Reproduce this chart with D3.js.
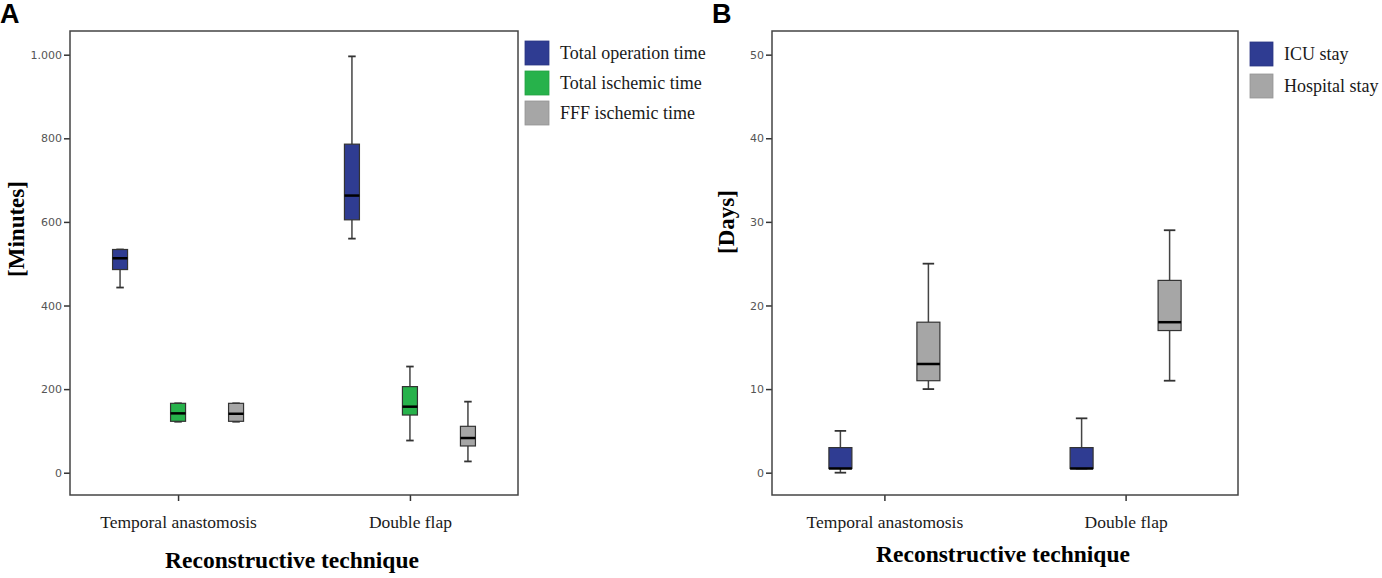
<!DOCTYPE html>
<html>
<head>
<meta charset="utf-8">
<script src="https://cdn.jsdelivr.net/npm/d3@7"></script>
<style>
  body { margin: 0; background: #fff; }
  svg { display: block; }
</style>
</head>
<body>
<div id="chart"></div>
<script>
// categories on the x axis (same for both panels)
const categories = ["Temporal anastomosis", "Double flap"];

// panel A: [min, q1, median, q3, max] in minutes, per category
const minutesSeries = ["Total operation time", "Total ischemic time", "FFF ischemic time"];
const operationTime = [[443, 486, 513, 534, 534], [560, 605, 663, 786, 996]];
const totalIschemicTime = [[122, 123, 142, 166, 166], [77, 138, 158, 206, 254]];
const fffIschemicTime = [[122, 123, 141, 166, 166], [27, 64, 83, 111, 170]];
const minutesTicks = [0, 200, 400, 600, 800, 1000];

// panel B: [min, q1, median, q3, max] in days, per category
const daysSeries = ["ICU stay", "Hospital stay"];
const icuStay = [[0, 0.5, 0.5, 3, 5], [0.5, 0.5, 0.5, 3, 6.5]];
const hospitalStay = [[10, 11, 13, 18, 25], [11, 17, 18, 23, 29]];
const daysTicks = [0, 10, 20, 30, 40, 50];

const width = 1382, height = 578;
const blue = "#2f3c92", green = "#27b24b", grey = "#a6a6a6";

// european style thousands: 1.000
const fmt = d3.formatLocale({decimal: ",", thousands: ".", grouping: [3], currency: ["", ""]}).format(",d");

const svg = d3.select("#chart").append("svg")
  .attr("width", width)
  .attr("height", height);

function drawPanel({
  letter, letterX,
  left, right, top = 31, bottom = 495,
  yDomain, ticks, yTitle, yTitleX, yTitleY,
  series, values, colors,
  spread, boxWidth,
  legendX, legendY, legendStep, swatchW,
  titleY
}) {
  const g = svg.append("g");

  const x = d3.scalePoint(categories, [left, right]).padding(0.466);
  const y = d3.scaleLinear(yDomain, [bottom, top]);
  const offset = d3.scalePoint(series, [-spread, spread]);

  // panel letter
  g.append("text")
    .attr("x", letterX).attr("y", 23)
    .attr("font-family", "Liberation Sans, Arial, sans-serif")
    .attr("font-weight", "bold")
    .attr("font-size", 27)
    .text(letter);

  // y axis
  const ya = g.append("g")
    .attr("transform", `translate(${left},0)`)
    .call(d3.axisLeft(y).tickValues(ticks).tickFormat(fmt).tickSize(6).tickPadding(2));
  ya.select(".domain").remove();
  ya.selectAll(".tick line").attr("stroke", "#333").attr("stroke-width", 1.5);
  ya.selectAll(".tick text")
    .attr("fill", "#555")
    .attr("font-family", "DejaVu Sans, sans-serif")
    .attr("font-size", 11);

  // x axis
  const xa = g.append("g")
    .attr("transform", `translate(0,${bottom})`)
    .call(d3.axisBottom(x).tickSize(6).tickPadding(15));
  xa.select(".domain").remove();
  xa.selectAll(".tick line").attr("stroke", "#333").attr("stroke-width", 1.5);
  xa.selectAll(".tick text")
    .attr("fill", "#1a1a1a")
    .attr("font-family", "Liberation Serif, Times New Roman, serif")
    .attr("font-size", 17.5);

  // frame
  g.append("rect")
    .attr("x", left).attr("y", top)
    .attr("width", right - left).attr("height", bottom - top)
    .attr("fill", "none")
    .attr("stroke", "#444")
    .attr("stroke-width", 1.5);

  // titles
  g.append("text")
    .attr("transform", `translate(${yTitleX},${yTitleY}) rotate(-90)`)
    .attr("text-anchor", "middle")
    .attr("dominant-baseline", "central")
    .attr("font-family", "Liberation Serif, Times New Roman, serif")
    .attr("font-weight", "bold")
    .attr("font-size", 23)
    .text(yTitle);

  g.append("text")
    .attr("x", (left + right) / 2 - 2).attr("y", titleY)
    .attr("text-anchor", "middle")
    .attr("font-family", "Liberation Serif, Times New Roman, serif")
    .attr("font-weight", "bold")
    .attr("font-size", 23.5)
    .text("Reconstructive technique");

  // boxes
  series.forEach((s, si) => {
    categories.forEach((c, ci) => {
      const [lo, q1, med, q3, hi] = values[si][ci];
      const cx = x(c) + offset(s);
      const bg = g.append("g");
      // whiskers
      bg.append("line")
        .attr("x1", cx).attr("x2", cx)
        .attr("y1", y(hi)).attr("y2", y(q3))
        .attr("stroke", "#444").attr("stroke-width", 1.5);
      bg.append("line")
        .attr("x1", cx).attr("x2", cx)
        .attr("y1", y(q1)).attr("y2", y(lo))
        .attr("stroke", "#444").attr("stroke-width", 1.5);
      [lo, hi].forEach(v => {
        bg.append("line")
          .attr("x1", cx - boxWidth / 4).attr("x2", cx + boxWidth / 4)
          .attr("y1", y(v)).attr("y2", y(v))
          .attr("stroke", "#333").attr("stroke-width", 1.8);
      });
      bg.append("rect")
        .attr("x", cx - boxWidth / 2).attr("y", y(q3))
        .attr("width", boxWidth).attr("height", Math.max(1, y(q1) - y(q3)))
        .attr("fill", colors[si])
        .attr("stroke", "#333")
        .attr("stroke-width", 1.2);
      bg.append("line")
        .attr("x1", cx - boxWidth / 2).attr("x2", cx + boxWidth / 2)
        .attr("y1", y(med)).attr("y2", y(med))
        .attr("stroke", "#000").attr("stroke-width", 2.5);
    });
  });

  // legend
  const lg = g.append("g");
  series.forEach((s, si) => {
    const ly = legendY + si * legendStep;
    lg.append("rect")
      .attr("x", legendX).attr("y", ly)
      .attr("width", swatchW).attr("height", 24)
      .attr("fill", colors[si])
      .attr("stroke", d3.color(colors[si]).darker(0.3))
      .attr("stroke-width", 0.8);
    lg.append("text")
      .attr("x", legendX + swatchW + 11).attr("y", ly + 12)
      .attr("dominant-baseline", "central")
      .attr("fill", "#1a1a1a")
      .attr("font-family", "Liberation Serif, Times New Roman, serif")
      .attr("font-size", 18)
      .text(s);
  });
}

drawPanel({
  letter: "A", letterX: 0,
  left: 70, right: 518,
  yDomain: [-53.3, 1056.7], ticks: minutesTicks,
  yTitle: "[Minutes]", yTitleX: 16, yTitleY: 229,
  series: minutesSeries,
  values: [operationTime, totalIschemicTime, fffIschemicTime],
  colors: [blue, green, grey],
  spread: 58, boxWidth: 15,
  legendX: 525, legendY: 41, legendStep: 30, swatchW: 24,
  titleY: 568
});

drawPanel({
  letter: "B", letterX: 712,
  left: 772, right: 1238,
  yDomain: [-2.67, 52.83], ticks: daysTicks,
  yTitle: "[Days]", yTitleX: 726, yTitleY: 222,
  series: daysSeries,
  values: [icuStay, hospitalStay],
  colors: [blue, grey],
  spread: 44, boxWidth: 23,
  legendX: 1250, legendY: 42, legendStep: 32, swatchW: 23,
  titleY: 562
});
</script>
</body>
</html>
